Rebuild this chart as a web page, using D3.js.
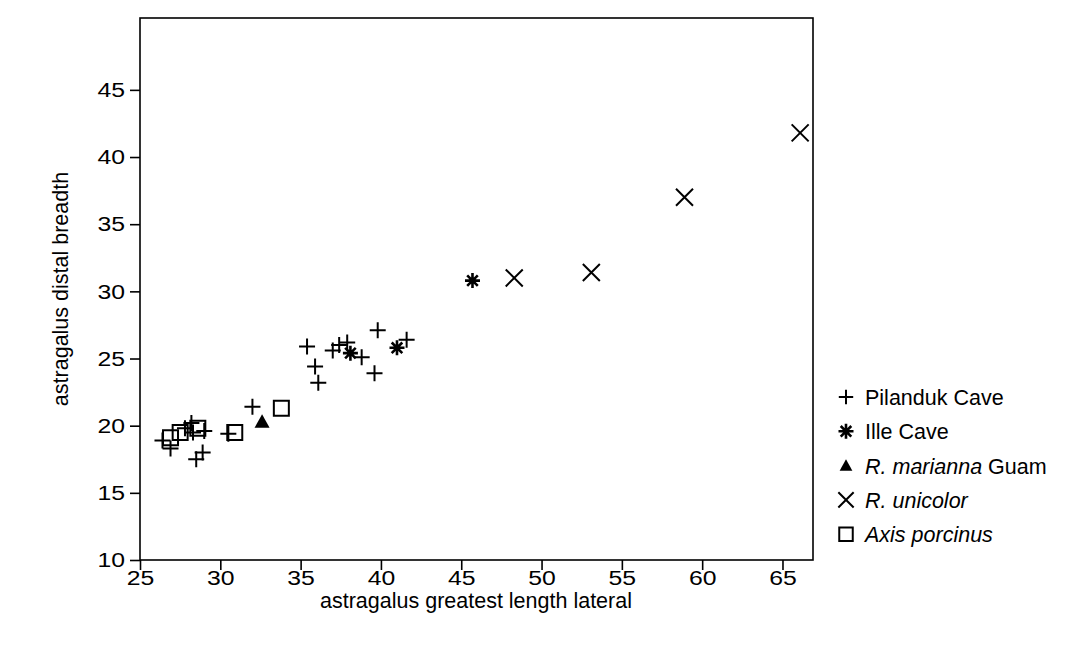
<!DOCTYPE html>
<html>
<head>
<meta charset="utf-8">
<script src="https://cdnjs.cloudflare.com/ajax/libs/d3/7.8.5/d3.min.js"></script>
<style>
  body { margin: 0; background: #fff; }
  text { font-family: "Liberation Sans", Arial, sans-serif; fill: #000; }
  .axis path, .axis line { stroke: #000; stroke-width: 1.6; }
  .axis text { font-size: 21px; }
</style>
</head>
<body>
<div id="chart"></div>
<script>
// data
var pilanduk = [[26.4, 18.9], [26.9, 18.3], [27.8, 19.8], [28.2, 20.2], [28.3, 19.5],
                [29.0, 19.6], [28.5, 17.5], [28.9, 18.0], [30.5, 19.4], [32.0, 21.4],
                [35.4, 25.9], [35.9, 24.4], [36.1, 23.2], [37.0, 25.6], [37.4, 26.0],
                [37.9, 26.2], [38.8, 25.1], [39.8, 27.1], [39.6, 23.9], [41.6, 26.4]];
var ille = [[45.7, 30.8], [41.0, 25.8], [38.1, 25.4]];
var marianna = [[32.6, 20.3]];
var unicolor = [[48.3, 31.0], [53.1, 31.4], [58.9, 37.0], [66.1, 41.8]];
var axisPorcinus = [[26.9, 19.1], [27.5, 19.5], [28.6, 19.8], [30.9, 19.5], [33.8, 21.3]];

var xTicks = [25, 30, 35, 40, 45, 50, 55, 60, 65];
var yTicks = [10, 15, 20, 25, 30, 35, 40, 45];

var series = [
  {name: "Pilanduk Cave", shape: "plus", data: pilanduk},
  {name: "Ille Cave", shape: "star", data: ille},
  {name: "R. marianna", extra: " Guam", italic: true, shape: "tri", data: marianna},
  {name: "R. unicolor", italic: true, shape: "cross", data: unicolor},
  {name: "Axis porcinus", italic: true, shape: "square", data: axisPorcinus}
];

var w = 1086, h = 668;
var pLeft = 140, pRight = 813, pTop = 18, pBottom = 560;

var svg = d3.select("#chart").append("svg")
    .attr("width", w)
    .attr("height", h);

var xscale = d3.scaleLinear().domain([25, 66.9]).range([pLeft, pRight]);
var yscale = d3.scaleLinear().domain([10, 50.35]).range([pBottom, pTop]);

// marker paths centred on 0,0
function shapePath(shape, a) {
  if (shape == "plus") return "M" + (-a) + ",0H" + a + "M0," + (-a) + "V" + a;
  if (shape == "cross") return "M" + (-a) + "," + (-a) + "L" + a + "," + a + "M" + (-a) + "," + a + "L" + a + "," + (-a);
  if (shape == "square") return "M" + (-a) + "," + (-a) + "H" + a + "V" + a + "H" + (-a) + "Z";
  if (shape == "tri") return "M0," + (-a) + "L" + a + "," + (a * 0.8) + "H" + (-a) + "Z";
  if (shape == "star") {
    var p = "";
    [0, 45, 90, 135].forEach(function(ang) {
      var r = ang * Math.PI / 180;
      var dx = Math.cos(r) * a, dy = Math.sin(r) * a;
      p += "M" + (-dx) + "," + (-dy) + "L" + dx + "," + dy;
    });
    return p;
  }
}
var sizes = {plus: 8, cross: 8.5, square: 7.5, tri: 7.5, star: 7.5};

function drawMarker(g, shape, k) {
  k = k || 1;
  g.append("path")
    .attr("d", shapePath(shape, sizes[shape] * k))
    .attr("fill", shape == "tri" ? "#000" : "none")
    .attr("stroke", "#000")
    .attr("stroke-width", shape == "star" ? 2.6 : (shape == "tri" ? 0 : 2));
}

// stretch the tick digits a bit wider, like the original
function widen(sel) {
  sel.selectAll("text").each(function() {
    var t = d3.select(this);
    var x = +t.attr("x") || 0, y = +t.attr("y") || 0;
    t.attr("x", 0).attr("y", 0)
     .attr("transform", "translate(" + x + "," + y + ") scale(1.18,1)");
  });
}

// axes
var xaxis = d3.axisBottom(xscale).tickValues(xTicks).tickSize(10).tickPadding(0);
var yaxis = d3.axisLeft(yscale).tickValues(yTicks).tickSize(10).tickPadding(5);

svg.append("g")
    .attr("class", "axis")
    .attr("transform", "translate(0," + pBottom + ")")
    .call(xaxis)
    .call(function(g) { g.select(".domain").remove(); })
    .call(widen);

svg.append("g")
    .attr("class", "axis")
    .attr("transform", "translate(" + pLeft + ",0)")
    .call(yaxis)
    .call(function(g) { g.select(".domain").remove(); })
    .call(widen);

svg.append("rect")
    .attr("x", pLeft)
    .attr("y", pTop)
    .attr("width", pRight - pLeft)
    .attr("height", pBottom - pTop)
    .attr("fill", "none")
    .attr("stroke", "#000")
    .attr("stroke-width", 1.6);

// points
series.forEach(function(s) {
  svg.append("g").selectAll("g")
    .data(s.data)
    .enter()
    .append("g")
    .attr("transform", function(d) {
      return "translate(" + xscale(d[0]) + "," + yscale(d[1]) + ")";
    })
    .each(function() { drawMarker(d3.select(this), s.shape); });
});

// axis titles
svg.append("text")
    .attr("x", 476)
    .attr("y", 608)
    .attr("text-anchor", "middle")
    .attr("font-size", "21.5px")
    .text("astragalus greatest length lateral");

svg.append("text")
    .attr("transform", "translate(68," + ((pTop + pBottom) / 2) + ") rotate(-90)")
    .attr("text-anchor", "middle")
    .attr("font-size", "21.5px")
    .text("astragalus distal breadth");

// legend
var legend = svg.append("g").attr("transform", "translate(846,397)");
series.forEach(function(s, i) {
  var row = legend.append("g").attr("transform", "translate(0," + (i * 34.3) + ")");
  drawMarker(row.append("g"), s.shape, s.shape == "tri" ? 0.85 : (s.shape == "star" ? 1.0 : 0.9));
  var t = row.append("text")
      .attr("x", 19)
      .attr("y", 8)
      .attr("font-size", "21.5px");
  t.append("tspan")
      .attr("font-style", s.italic ? "italic" : "normal")
      .text(s.name);
  if (s.extra) t.append("tspan").text(s.extra);
});
</script>
</body>
</html>
